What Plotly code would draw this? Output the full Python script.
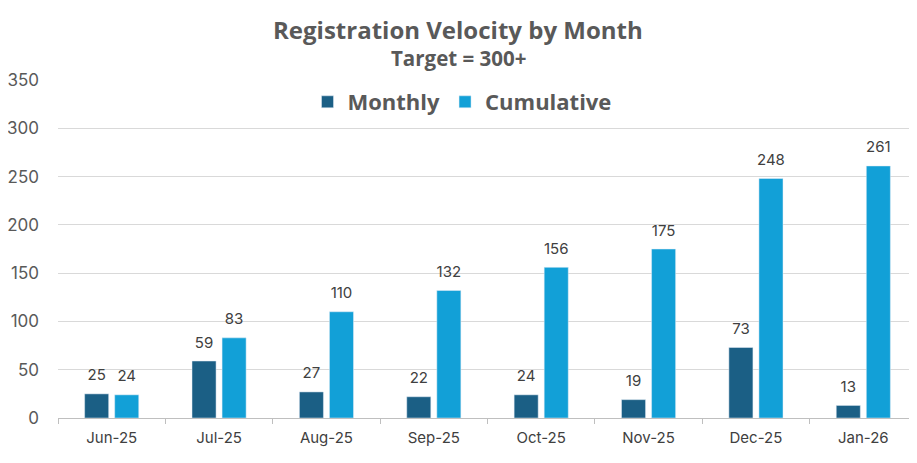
import plotly.graph_objects as go

months = ["Jun-25", "Jul-25", "Aug-25", "Sep-25", "Oct-25", "Nov-25", "Dec-25", "Jan-26"]
monthly = [25, 59, 27, 22, 24, 19, 73, 13]
cumulative = [24, 83, 110, 132, 156, 175, 248, 261]
y_ticks = [0, 50, 100, 150, 200, 250, 300, 350]

# The page adds an 8px body margin, so the figure is sized and placed to compensate.
W, H = 909, 455
L, R, T, B = 50, 0, 72, 45
PH = H - T - B
PW = W - L - R

label_font = dict(family="Inter, Noto Sans, sans-serif", size=15, color="#404040")
series = [("Monthly", monthly, "#1B5F85"), ("Cumulative", cumulative, "#12A0D7")]

fig = go.Figure()
for name, vals, color in series:
    fig.add_trace(go.Bar(
        x=months, y=vals, name=name, marker_color=color,
        offsetgroup=name, legendgroup=name,
    ))
for name, vals, color in series:
    fig.add_trace(go.Scatter(
        x=months, y=vals, mode="markers+text", text=[str(v) for v in vals],
        textposition="top center", textfont=label_font,
        marker=dict(size=14, opacity=0), offsetgroup=name, legendgroup=name,
        showlegend=False, hoverinfo="skip", cliponaxis=False,
    ))

title_font = dict(family="Open Sans, sans-serif", color="#595959", weight="bold")
cx = (450 - L) / PW

fig.update_layout(
    width=W, height=H,
    margin=dict(l=L, r=R, t=T, b=B, autoexpand=False),
    paper_bgcolor="white", plot_bgcolor="white",
    barmode="group", bargap=0.44, bargroupgap=0.2,
    scattermode="group", scattergap=0.44,
    showlegend=True,
    legend=dict(
        orientation="h", x=(454 - L) / PW, xanchor="center", y=(H - B - 94) / PH,
        yanchor="middle",
        font=dict(family="Open Sans, sans-serif", size=22, color="#595959", weight="bold"),
        bgcolor="rgba(0,0,0,0)", traceorder="normal",
    ),
    annotations=[
        dict(text="Registration Velocity by Month", xref="paper", yref="paper",
             x=cx, y=(H - B - 21) / PH, xanchor="center", yanchor="middle",
             showarrow=False, font=dict(size=24, **title_font)),
        dict(text="Target = 300+", xref="paper", yref="paper",
             x=cx, y=(H - B - 50) / PH, xanchor="center", yanchor="middle",
             showarrow=False, font=dict(size=20.5, **title_font)),
    ],
    xaxis=dict(
        type="category", showgrid=False, showline=True, linecolor="#BFBFBF", linewidth=1,
        ticks="outside", tickson="boundaries", ticklen=5, tickcolor="#BFBFBF",
        ticklabelstandoff=6,
        tickfont=dict(family="Inter, Noto Sans, sans-serif", size=15, color="#404040"),
    ),
    yaxis=dict(
        range=[0, 350], tickvals=y_ticks, showgrid=True, gridcolor="#D9D9D9", gridwidth=1,
        zeroline=False, showline=False, ticklabelstandoff=18,
        tickfont=dict(family="Inter, Noto Sans, sans-serif", size=17, color="#595959"),
    ),
)

fig.write_html("out.html")
